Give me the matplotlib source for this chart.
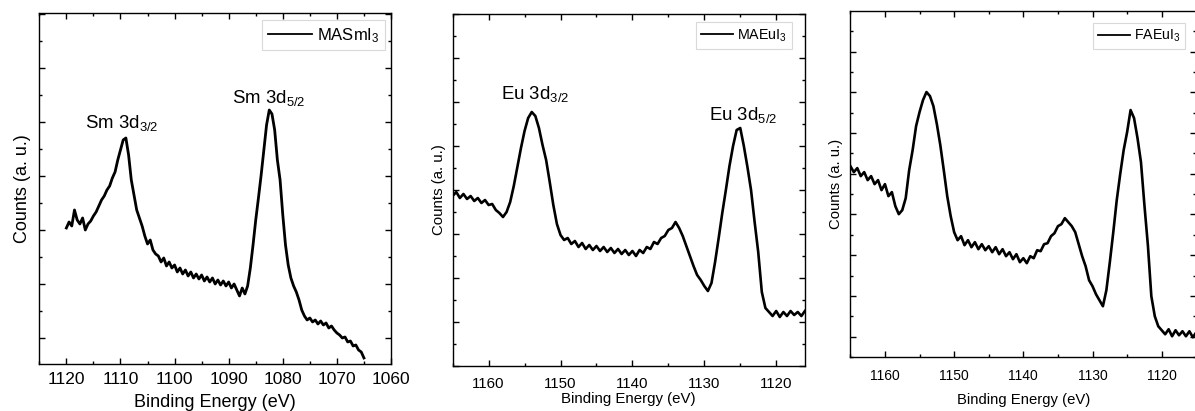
"""
XPS core-level spectra (Sm 3d / Eu 3d) for MASmI3, MAEuI3 and FAEuI3.
"""

import numpy as np
import matplotlib
matplotlib.use("Agg")
import matplotlib.pyplot as plt
from matplotlib.ticker import MultipleLocator, AutoMinorLocator

plt.rcParams['font.family'] = ['Liberation Sans', 'DejaVu Sans']
plt.rcParams['mathtext.fontset'] = 'custom'
plt.rcParams['mathtext.rm'] = 'Liberation Sans'
plt.rcParams['mathtext.it'] = 'Liberation Sans:italic'

# --- data (counts in arbitrary units) ---
sm_energy = np.arange(1120.0, 1064.9, -0.5)
sm_counts = [
    136, 142, 138, 154, 144, 140, 146, 134, 140, 143,
    148, 152, 158, 164, 168, 174, 178, 186, 192, 204,
    214, 224, 226, 209, 184, 169, 154, 146, 138, 128,
    120, 124, 114, 110, 108, 102, 106, 98, 102, 96,
    99, 92, 96, 90, 94, 88, 92, 86, 90, 85,
    89, 83, 87, 82, 86, 80, 84, 79, 83, 78,
    82, 76, 80, 74, 68, 76, 70, 78, 96, 119,
    144, 166, 189, 214, 239, 254, 250, 234, 204, 184,
    149, 119, 99, 86, 78, 72, 64, 54, 48, 44,
    46, 42, 44, 40, 43, 39, 41, 36, 38, 34,
    31, 29, 26, 27, 22, 23, 18, 19, 14, 12,
    6,
]

maeu_energy = np.arange(1165.0, 1115.9, -0.5)
maeu_counts = [
    170, 174, 168, 172, 167, 170, 165, 168, 163, 166,
    161, 162, 156, 153, 149, 154, 164, 180, 199, 218,
    235, 248, 254, 250, 238, 221, 206, 184, 161, 142,
    131, 126, 128, 122, 125, 119, 123, 117, 121, 116,
    120, 115, 119, 114, 118, 113, 117, 112, 116, 111,
    115, 110, 116, 113, 119, 117, 124, 122, 128, 130,
    136, 138, 144, 138, 130, 120, 110, 100, 91, 86,
    80, 75, 83, 104, 128, 153, 176, 200, 220, 236,
    238, 220, 199, 176, 144, 114, 74, 58, 54, 50,
    55, 49, 54, 50, 55, 51, 54, 50, 55,
]

faeu_energy = np.arange(1165.0, 1114.9, -0.5)
faeu_counts = [
    191, 185, 189, 181, 185, 177, 181, 173, 177, 167,
    173, 161, 165, 151, 143, 147, 159, 187, 207, 231,
    245, 257, 265, 261, 251, 233, 212, 187, 161, 141,
    125, 117, 121, 112, 117, 110, 115, 108, 113, 107,
    111, 105, 110, 103, 108, 101, 105, 98, 103, 95,
    99, 94, 101, 99, 107, 106, 113, 114, 121, 124,
    131, 133, 139, 135, 131, 125, 113, 101, 91, 77,
    71, 63, 57, 51, 67, 95, 125, 157, 183, 207,
    225, 247, 239, 219, 195, 152, 112, 61, 41, 31,
    27, 23, 28, 21, 27, 22, 26, 21, 26, 20,
    25,
]

fig = plt.figure(figsize=(11.95, 4.11), dpi=100)

# [left, bottom, width, height] in figure fractions
ax1 = fig.add_axes([0.0329, 0.1144, 0.2943, 0.8540])
ax2 = fig.add_axes([0.3788, 0.1095, 0.2948, 0.8564])
ax3 = fig.add_axes([0.7116, 0.1307, 0.2895, 0.8426])


def style_axes(ax, tick_fs, label_fs, tick_pad, ylabel_pad, xlabel_pad):
    for s in ax.spines.values():
        s.set_linewidth(1.0)
    ax.tick_params(which='both', direction='in', top=True, right=True,
                   labelleft=False, width=1.0)
    ax.tick_params(which='major', length=4, labelsize=tick_fs, pad=tick_pad)
    ax.tick_params(which='minor', length=2.4)
    ax.xaxis.set_major_locator(MultipleLocator(10))
    ax.xaxis.set_minor_locator(MultipleLocator(5))
    ax.yaxis.set_minor_locator(AutoMinorLocator(2))
    ax.set_xlabel('Binding Energy (eV)', fontsize=label_fs, labelpad=xlabel_pad)
    ax.set_ylabel('Counts (a. u.)', fontsize=label_fs, labelpad=ylabel_pad)


def add_legend(ax, fs, anchor, handlelength):
    leg = ax.legend(loc='upper right', bbox_to_anchor=anchor, fontsize=fs,
                    frameon=True, fancybox=False, handlelength=handlelength,
                    borderpad=0.35, handletextpad=0.3, borderaxespad=0.0)
    leg.get_frame().set_edgecolor('#d0d0d0')
    leg.get_frame().set_linewidth(0.8)
    for line in leg.get_lines():
        line.set_linewidth(1.3)


# 1. MASmI3
ax1.plot(sm_energy, sm_counts, color='black', linewidth=2.0, label='MASmI$_3$')
ax1.set_xlim(1125, 1060)
ax1.set_ylim(0, 351)
ax1.set_yticks(np.arange(26, 351, 54))
style_axes(ax1, 12.5, 13, 5.5, 6, 5.5)
ax1.text(1116.6, 236, 'Sm 3d$_{3/2}$', fontsize=13.4, ha='left', va='baseline')
ax1.text(1089.4, 261, 'Sm 3d$_{5/2}$', fontsize=13.4, ha='left', va='baseline')
add_legend(ax1, 12, (0.983, 0.98), 2.6)

# 2. MAEuI3
ax2.plot(maeu_energy, maeu_counts, color='black', linewidth=1.9, label='MAEuI$_3$')
ax2.set_xlim(1165, 1116)
ax2.set_ylim(0, 352)
ax2.yaxis.set_major_locator(MultipleLocator(44))
style_axes(ax2, 10.8, 10.8, 8, 5, 1)
ax2.text(1158.3, 267, 'Eu 3d$_{3/2}$', fontsize=13.4, ha='left', va='baseline')
ax2.text(1129.35, 246, 'Eu 3d$_{5/2}$', fontsize=13.4, ha='left', va='baseline')
add_legend(ax2, 10.3, (0.963, 0.977), 2.2)

# 3. FAEuI3
ax3.plot(faeu_energy, faeu_counts, color='black', linewidth=1.9, label='FAEuI$_3$')
ax3.set_xlim(1165, 1115)
ax3.set_ylim(0, 346)
ax3.set_yticks(np.arange(20.6, 346, 40.7))
style_axes(ax3, 10, 10.7, 8.5, 5, 7)
add_legend(ax3, 10.2, (0.968, 0.965), 2.2)

fig.savefig('out.png', dpi=100)
